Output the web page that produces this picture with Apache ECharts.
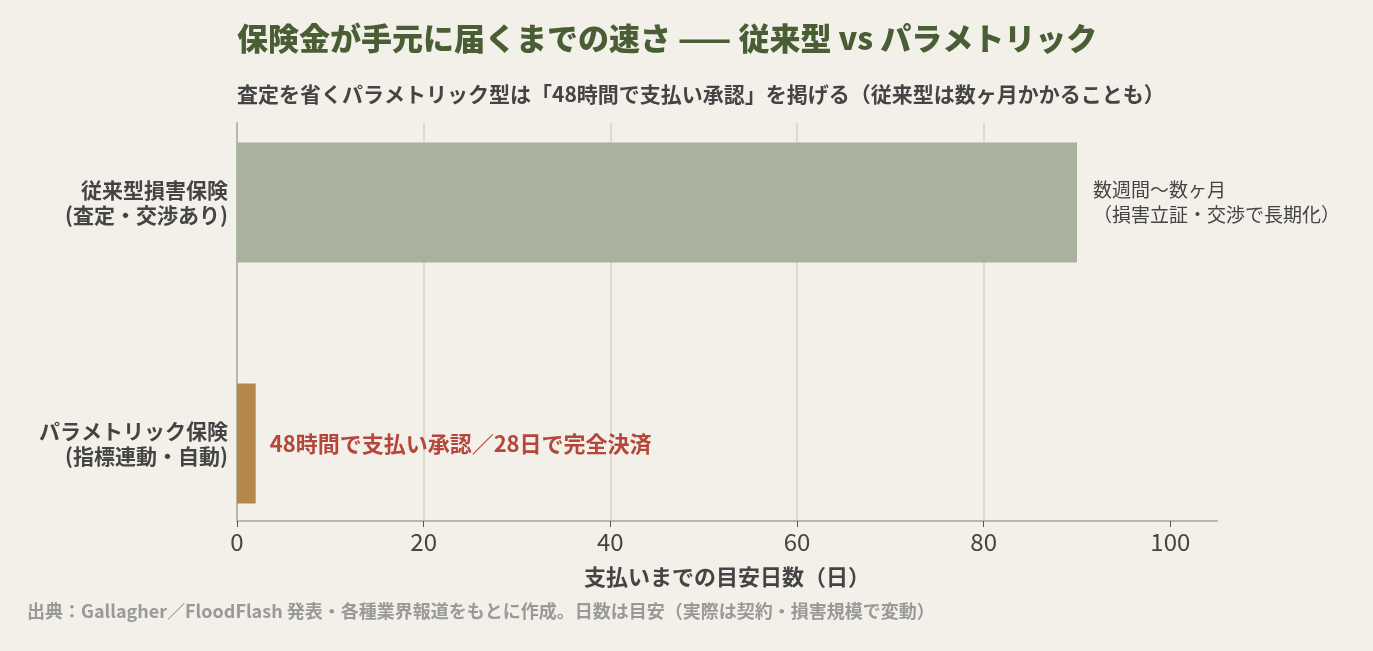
<!DOCTYPE html>
<html>
<head>
<meta charset="utf-8">
<script src="https://cdn.jsdelivr.net/npm/echarts@6/dist/echarts.min.js"></script>
<style>
html, body { margin: 0; padding: 0; background: #f2f0e9; }
#main { width: 1373px; height: 651px; }
</style>
</head>
<body>
<div id="main"></div>
<script>
// データ
var categories = ['従来型損害保険\n(査定・交渉あり)', 'パラメトリック保険\n(指標連動・自動)'];
var days = [90, 2];
var barLabels = ['数週間〜数ヶ月\n（損害立証・交渉で長期化）', '48時間で支払い承認／28日で完全決済'];
var xTicks = [0, 20, 40, 60, 80, 100];

var FONT = '"Noto Sans CJK JP", "Noto Sans", sans-serif';
var barColors = ['#a9b29c', '#b5874a'];

var seriesData = [];
for (var i = 0; i < days.length; i++) {
    seriesData.push({
        value: days[i],
        itemStyle: { color: barColors[i] },
        label: i === 0 ? {
            show: true,
            position: 'right',
            distance: 16,
            formatter: barLabels[i],
            color: '#444',
            fontSize: 19,
            lineHeight: 25,
            fontFamily: FONT
        } : {
            show: true,
            position: 'right',
            distance: 14,
            formatter: barLabels[i],
            color: '#b5473a',
            fontSize: 22,
            fontWeight: 'bold',
            fontFamily: FONT
        }
    });
}

var option = {
    backgroundColor: '#f2f0e9',
    animation: false,
    textStyle: { fontFamily: FONT },
    title: [{
        text: '保険金が手元に届くまでの速さ —— 従来型 vs パラメトリック',
        left: 237,
        top: 23,
        padding: 0,
        textStyle: { color: '#4a5e35', fontSize: 31, fontWeight: 900, fontFamily: FONT }
    }, {
        text: '査定を省くパラメトリック型は「48時間で支払い承認」を掲げる（従来型は数ヶ月かかることも）',
        left: 237,
        top: 84,
        padding: 0,
        textStyle: { color: '#444', fontSize: 21, fontWeight: 'bold', fontFamily: FONT }
    }, {
        text: '出典：Gallagher／FloodFlash 発表・各種業界報道をもとに作成。日数は目安（実際は契約・損害規模で変動）',
        left: 27,
        top: 602,
        padding: 0,
        textStyle: { color: '#999', fontSize: 18, fontWeight: 'bold', fontFamily: FONT }
    }],
    // grid0: 棒用, grid1: 軸と目盛線用
    grid: [
        { left: 237, right: 156, top: 82, height: 482 },
        { left: 237, right: 156, top: 123, height: 398 }
    ],
    xAxis: [{
        gridIndex: 0,
        type: 'value',
        min: 0,
        max: 105,
        show: false
    }, {
        gridIndex: 1,
        type: 'value',
        min: 0,
        max: 105,
        interval: 20,
        axisLine: { show: true, lineStyle: { color: '#b5b9a8', width: 2 } },
        axisTick: { show: true, length: 6, customValues: xTicks, lineStyle: { color: '#555' } },
        axisLabel: {
            color: '#444', fontSize: 24, margin: 9, fontFamily: FONT,
            customValues: xTicks
        },
        splitLine: { show: true, showMaxLine: false, lineStyle: { color: '#dcdbd2', width: 2 } },
        name: '支払いまでの目安日数（日）',
        nameLocation: 'middle',
        nameGap: 45,
        nameTextStyle: { color: '#444', fontSize: 22, fontWeight: 'bold', fontFamily: FONT }
    }],
    yAxis: [{
        gridIndex: 0,
        type: 'category',
        inverse: true,
        data: categories,
        axisLine: { show: false },
        axisTick: { show: false },
        axisLabel: {
            color: '#444', fontSize: 21, fontWeight: 'bold', lineHeight: 25, margin: 9,
            align: 'right', fontFamily: FONT
        }
    }, {
        gridIndex: 1,
        type: 'category',
        data: ['', ''],
        axisLine: { show: true, lineStyle: { color: '#b5b9a8', width: 2 } },
        axisTick: { show: false },
        axisLabel: { show: false }
    }],
    series: [{
        type: 'bar',
        xAxisIndex: 0,
        yAxisIndex: 0,
        barWidth: 120,
        z: 3,
        data: seriesData
    }]
};

var echart = echarts.init(document.getElementById('main'));
echart.setOption(option, true);
</script>
</body>
</html>
